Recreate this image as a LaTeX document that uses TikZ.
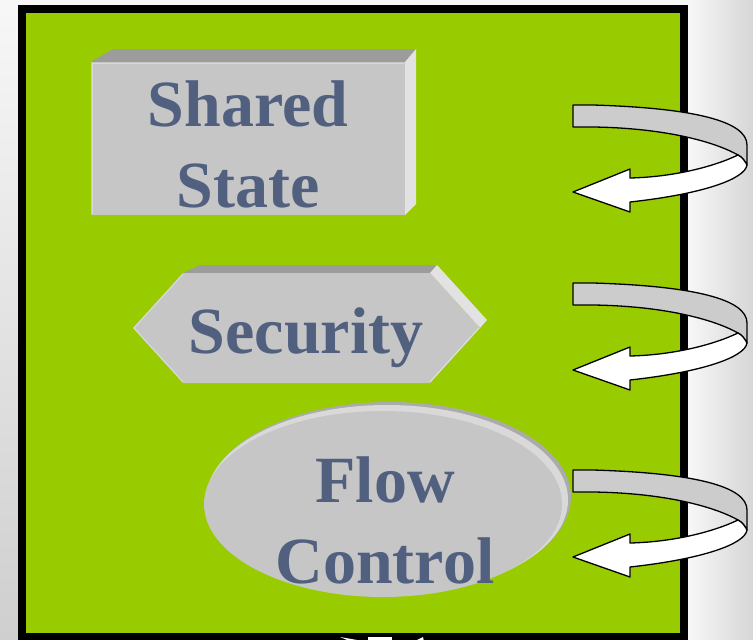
\documentclass[tikz,border=0pt]{standalone}
\usepackage{fontspec}
\setmainfont{Liberation Serif}
\definecolor{panelgreen}{HTML}{99CC00}
\definecolor{facegray}{HTML}{C6C6C6}
\definecolor{topgray}{HTML}{9C9C9C}
\definecolor{sidegray}{HTML}{E2E2E2}
\definecolor{rimgray}{HTML}{ABABAB}
\definecolor{labelblue}{HTML}{526080}
\definecolor{bandgray}{HTML}{CCCCCC}
\tikzset{
  label text/.style={font=\bfseries\fontsize{66}{81}\selectfont, text=labelblue, align=center, inner sep=0pt},
  band/.style={draw=black, line width=1.3pt, line join=round},
  turn/.pic={
    \path[band, fill=bandgray] (0,0) -- (20,0) .. controls (120,3) and (174,16) .. (174,40) -- (174,60)
        .. controls (172,56) and (169,52) .. (165,50)
        .. controls (140,36) and (90,23) .. (20,22) -- (0,22) -- cycle;
    \path[band, fill=white] (174,60) .. controls (172,74) and (130,89) .. (57,97) -- (57,107) -- (0,87) -- (57,64) -- (57,73)
        .. controls (100,72) and (140,62) .. (165,50)
        .. controls (169,52) and (172,56) .. (174,60) -- cycle;
  }
}
\begin{document}
\begin{tikzpicture}[x=1pt,y=-1pt]
\useasboundingbox (0,0) rectangle (753,640);
% background
\shade[top color=white!97!black, bottom color=white!81!black] (0,0) rectangle (753,640);
\shade[left color=white!97!black, right color=white!84!black] (688,0) rectangle (753,640);
% panel
\fill[black] (18,5) rectangle (688,646);
\fill[panelgreen] (26,13) rectangle (680,633);
% Shared State box
\fill[topgray] (91,62) -- (113,49) -- (416,49) -- (405,62) -- cycle;
\fill[sidegray] (405,62) -- (416,49) -- (416,204) -- (405,215) -- cycle;
\fill[facegray] (91,62) rectangle (405,215);
\draw[white!85!black, line width=1pt] (92,214) -- (92,63) -- (404,63);
\node[label text, anchor=base] (shared) at (248,207) {Shared\\State};
% Security hexagon
\fill[topgray] (183,273) -- (200,265) -- (437,265) -- (430,273) -- cycle;
\fill[sidegray] (430,273) -- (437,265) -- (487,320) -- (480,328) -- cycle;
\fill[facegray] (133,328) -- (183,273) -- (430,273) -- (480,328) -- (430,383) -- (183,383) -- cycle;
\draw[white!85!black, line width=1pt] (183,382) -- (134,328) -- (183,274);
\draw[white!88!black, line width=1pt] (430,382) -- (479,328);
\node[label text, anchor=base] (security) at (306,353) {Security};
% Flow Control ellipse
\fill[rimgray] (390,497) ellipse [x radius=181, y radius=95];
\fill[white!85!black] (387,500) ellipse [x radius=181, y radius=95];
\fill[facegray] (383,504) ellipse [x radius=179, y radius=93];
\node[label text, anchor=base] (flow) at (385,583) {Flow\\Control};
% turning arrows
\pic (turnA) at (573,105) {turn};
\pic (turnB) at (573,283) {turn};
\pic (turnC) at (573,470) {turn};
% partial white marks at bottom edge
\fill[white] (340,637) -- (357,640) -- (352,642) -- cycle;
\fill[white] (368,637) rectangle (392,642);
\fill[white] (417,640) -- (423,637) -- (424,642) -- cycle;
\end{tikzpicture}
\end{document}
